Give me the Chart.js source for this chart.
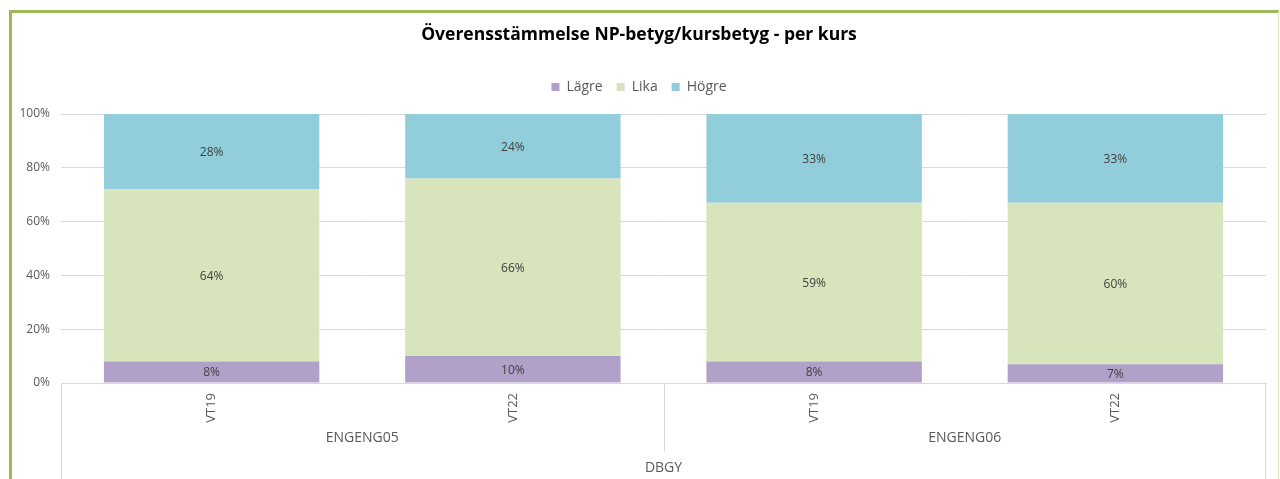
<!DOCTYPE html>
<html>
<head>
<meta charset="utf-8">
<script src="https://cdn.jsdelivr.net/npm/chart.js@4.4.1/dist/chart.umd.min.js"></script>
<style>
    html, body { margin: 0; padding: 0; background: #fff; }
    #wrap { position: relative; width: 1280px; height: 479px; overflow: hidden; }
    #frame {
        position: absolute; left: 9px; top: 10px; width: 1270px; height: 520px;
        border-left: 3px solid #9bbb59; border-top: 3px solid #9bbb59; border-right: 1px solid #d7e4bd;
        box-sizing: border-box; pointer-events: none;
    }
    canvas { position: absolute; left: 0; top: 0; }
</style>
</head>
<body>
<div id="wrap">
    <canvas id="chart" width="1280" height="479"></canvas>
    <div id="frame"></div>
</div>
<script>
// Data
const categories = ['VT19', 'VT22', 'VT19', 'VT22'];
const courseGroups = ['ENGENG05', 'ENGENG06'];
const schoolGroup = ['DBGY'];
const lagre = [8, 10, 8, 7];
const lika = [64, 66, 59, 60];
const hogre = [28, 24, 33, 33];
const yTicks = [0, 20, 40, 60, 80, 100];

const FONT = '"Open Sans", sans-serif';
const TEXT = '#595959';
const LINE = '#d9d9d9';

// extra room between legend and plot
const legendSpacing = {
    id: 'legendSpacing',
    beforeInit(chart) {
        const fit = chart.legend.fit;
        chart.legend.fit = function () {
            fit.bind(chart.legend)();
            this.height += 10;
        };
    }
};

// value labels in the middle of each segment
const segmentLabels = {
    id: 'segmentLabels',
    afterDatasetsDraw(chart) {
        const ctx = chart.ctx;
        ctx.save();
        ctx.font = '12px ' + FONT;
        ctx.fillStyle = '#404040';
        ctx.textAlign = 'center';
        ctx.textBaseline = 'middle';
        chart.data.datasets.forEach((ds, i) => {
            chart.getDatasetMeta(i).data.forEach((bar, j) => {
                const c = bar.getCenterPoint();
                ctx.fillText(ds.data[j] + '%', c.x, c.y + 1);
            });
        });
        ctx.restore();
    }
};

// Excel-style multi level category axis (course / school)
const groupAxis = {
    id: 'groupAxis',
    afterDraw(chart) {
        const xs = chart.scales.x;
        const area = chart.chartArea;
        const ctx = chart.ctx;
        const H = chart.height;
        const per = categories.length / courseGroups.length;
        const line = (x0, y0, x1, y1) => {
            ctx.beginPath();
            ctx.moveTo(x0, y0);
            ctx.lineTo(x1, y1);
            ctx.stroke();
        };
        ctx.save();
        ctx.strokeStyle = LINE;
        ctx.lineWidth = 1;
        line(Math.round(area.left) + 0.5, area.bottom, Math.round(area.left) + 0.5, H);
        line(Math.round(area.right) - 0.5, area.bottom, Math.round(area.right) - 0.5, H);
        for (let g = 1; g < courseGroups.length; g++) {
            const sx = (xs.getPixelForValue(g * per - 1) + xs.getPixelForValue(g * per)) / 2;
            line(Math.round(sx) + 0.5, area.bottom, Math.round(sx) + 0.5, area.bottom + 69);
        }
        ctx.font = '14px ' + FONT;
        ctx.fillStyle = TEXT;
        ctx.textAlign = 'center';
        ctx.textBaseline = 'middle';
        courseGroups.forEach((name, g) => {
            const cx = (xs.getPixelForValue(g * per) + xs.getPixelForValue(g * per + per - 1)) / 2;
            ctx.fillText(name, cx, area.bottom + 55);
        });
        ctx.fillText(schoolGroup[0], (area.left + area.right) / 2, area.bottom + 85);
        ctx.restore();
    }
};

new Chart(document.getElementById('chart'), {
    type: 'bar',
    data: {
        labels: categories,
        datasets: [
            { label: 'Lägre', data: lagre, backgroundColor: '#b1a0c7' },
            { label: 'Lika', data: lika, backgroundColor: '#d8e4bc' },
            { label: 'Högre', data: hogre, backgroundColor: '#92cddc' }
        ]
    },
    options: {
        responsive: false,
        animation: false,
        layout: { padding: { left: 12, right: 14, top: 0, bottom: 0 } },
        datasets: { bar: { categoryPercentage: 1, barPercentage: 0.715, borderWidth: 0 } },
        plugins: {
            title: {
                display: true,
                text: 'Överensstämmelse NP-betyg/kursbetyg - per kurs',
                color: '#000',
                font: { family: FONT, size: 17.5, weight: 'bold' },
                padding: { top: 25, bottom: 20 }
            },
            legend: {
                display: true,
                position: 'top',
                labels: {
                    color: TEXT,
                    font: { family: FONT, size: 14 },
                    boxWidth: 8,
                    boxHeight: 8,
                    padding: 14
                }
            },
            tooltip: { enabled: false }
        },
        scales: {
            x: {
                stacked: true,
                grid: { display: false, drawTicks: false },
                border: { display: true, color: LINE },
                ticks: { color: TEXT, font: { family: FONT, size: 13 }, minRotation: 90, maxRotation: 90, padding: 10 },
                afterFit(scale) { scale.height = 96; }
            },
            y: {
                stacked: true,
                min: 0,
                max: 100,
                afterBuildTicks(scale) { scale.ticks = yTicks.map(v => ({ value: v })); },
                grid: { color: LINE, drawTicks: false },
                border: { display: false },
                ticks: { color: TEXT, font: { family: FONT, size: 12 }, padding: 11, callback: v => v + '%' },
                afterFit(scale) { scale.width = 49; }
            }
        }
    },
    plugins: [legendSpacing, segmentLabels, groupAxis]
});
</script>
</body>
</html>
